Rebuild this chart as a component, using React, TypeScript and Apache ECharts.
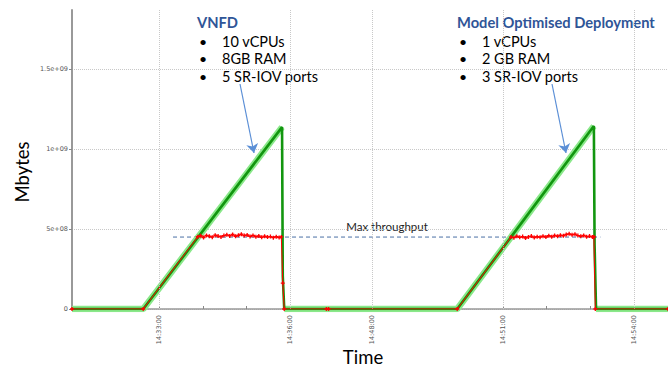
import React, { useEffect, useRef } from "react";
import * as echarts from "echarts";

// ---- time axis (two test runs shown side by side, the idle gap cut out) ----
const AXIS_START = "14:31:00";
const BREAK_AT = "14:40:00";
const GAP_SECONDS = 607;
const AXIS_END_SECONDS = 820;

const xTickLabels = ["14:33:00", "14:36:00", "14:48:00", "14:51:00", "14:54:00"];
const xMinorTicks = ["14:34:00", "14:35:00", "14:52:00", "14:53:00"];

const yTickValues = [0, 5e8, 1e9, 1.5e9];
const yTickLabels = ["0", "5e+08", "1e+09", "1.5e+09"];
const Y_MAX = 1.87e9;

// ---- green series (Mbytes sent) ----
const greenTimes = [
  "14:31:00", "14:32:38", "14:35:49", "14:35:50", "14:35:52", "14:36:50",
  "14:47:00", "14:49:57", "14:53:05", "14:53:06", "14:53:08", "14:54:47",
];
const greenValues = [
  0, 0, 1.1375e9, 2.06e8, 0, 0,
  0, 0, 1.144e9, 4.0e8, 0, 0,
];

// ---- red series (Mbytes received) ----
const redTimes = [
  "14:31:00", "14:32:38",
  "14:33:53", "14:33:57", "14:34:01", "14:34:05", "14:34:09", "14:34:13", "14:34:17", "14:34:21",
  "14:34:25", "14:34:29", "14:34:33", "14:34:37", "14:34:41", "14:34:45", "14:34:49", "14:34:53",
  "14:34:57", "14:35:01", "14:35:05", "14:35:09", "14:35:13", "14:35:17", "14:35:21", "14:35:25",
  "14:35:29", "14:35:33", "14:35:37", "14:35:41", "14:35:45", "14:35:48",
  "14:35:50", "14:35:52", "14:36:50",
  "14:47:00", "14:49:57",
  "14:51:11", "14:51:15", "14:51:19", "14:51:23", "14:51:27", "14:51:31", "14:51:35", "14:51:39",
  "14:51:43", "14:51:47", "14:51:51", "14:51:55", "14:51:59", "14:52:03", "14:52:07", "14:52:11",
  "14:52:15", "14:52:19", "14:52:23", "14:52:27", "14:52:31", "14:52:35", "14:52:39", "14:52:43",
  "14:52:47", "14:52:51", "14:52:55", "14:52:59", "14:53:03", "14:53:05",
  "14:53:07", "14:54:47",
];
const redValues = [
  0, 0,
  452e6, 458e6, 447e6, 460e6, 455e6, 449e6, 462e6, 456e6,
  451e6, 459e6, 464e6, 457e6, 466e6, 455e6, 461e6, 468e6,
  459e6, 463e6, 454e6, 460e6, 452e6, 457e6, 448e6, 455e6,
  450e6, 453e6, 446e6, 452e6, 447e6, 451e6,
  1.62e8, 0, 0,
  0, 0,
  450e6, 446e6, 455e6, 448e6, 453e6, 444e6, 451e6, 456e6,
  447e6, 452e6, 449e6, 455e6, 450e6, 458e6, 452e6, 460e6,
  455e6, 462e6, 458e6, 466e6, 470e6, 464e6, 468e6, 459e6,
  455e6, 460e6, 452e6, 456e6, 450e6, 452e6,
  0, 0,
];

const maxThroughputTimes = ["14:33:19", "14:53:14"];
const MAX_THROUGHPUT = 4.5e8;

// ---- annotations ----
const vnfdTitle = "VNFD";
const vnfdBullets = ["10 vCPUs", "8GB RAM", "5 SR-IOV ports"];
const modelTitle = "Model Optimised Deployment";
const modelBullets = ["1 vCPUs", "2 GB RAM", "3 SR-IOV ports"];
const maxLabel = "Max throughput";

function clockSec(t: string): number {
  const [h, m, s] = t.split(":").map(Number);
  return h * 3600 + m * 60 + s;
}
const START = clockSec(AXIS_START);
const BREAK = clockSec(BREAK_AT) - START;
function displaySec(t: string): number {
  const s = clockSec(t) - START;
  return s >= BREAK ? s - GAP_SECONDS : s;
}

const majorTickVals = xTickLabels.map(displaySec);
const minorTickVals = xMinorTicks.map(displaySec);

const greenData = greenTimes.map((t, i) => [displaySec(t), greenValues[i]]);
const redData = redTimes.map((t, i) => [displaySec(t), redValues[i]]);
// halo band is broken where the line falls vertically
const greenHalo: any[] = [];
greenData.forEach((p, i) => {
  greenHalo.push(p);
  const nx = greenData[i + 1];
  if (nx && nx[1] < p[1]) greenHalo.push([p[0], null]);
});
const maxData = maxThroughputTimes.map((t) => [displaySec(t), MAX_THROUGHPUT]);

const TEXT_FONT = "Lato, 'Open Sans', sans-serif";
const TITLE_COLOR = "#2f5597";
const PLUS = "path://M1,0H2V1H3V2H2V3H1V2H0V1H1Z";

function annotationBlock(x: number, title: string, bullets: string[]) {
  const els: any[] = [
    {
      type: "text",
      x,
      y: 22,
      style: { text: title, fontFamily: TEXT_FONT, fontWeight: "bold", fontSize: 14.7, fill: TITLE_COLOR, verticalAlign: "middle" },
    },
  ];
  bullets.forEach((b, i) => {
    const y = 41 + i * 17.5;
    els.push({
      type: "text",
      x: x + 2,
      y,
      style: { text: "•", fontFamily: TEXT_FONT, fontSize: 14, fill: "#000", verticalAlign: "middle" },
    });
    els.push({
      type: "text",
      x: x + 25,
      y,
      style: { text: b, fontFamily: TEXT_FONT, fontSize: 14.5, fill: "#000", verticalAlign: "middle" },
    });
  });
  return els;
}

export default function App() {
  const ref = useRef<HTMLDivElement>(null);
  useEffect(() => {
    if (!ref.current) return;
    const chart = echarts.init(ref.current, undefined, { renderer: "svg" });
    const fmtY = (v: number) => {
      const i = yTickValues.findIndex((t) => Math.abs(t - v) < 1);
      return i >= 0 ? yTickLabels[i] : "";
    };
    const fmtX = (v: number) => {
      const i = majorTickVals.findIndex((t) => Math.abs(t - v) < 0.5);
      return i >= 0 ? xTickLabels[i] : "";
    };
    chart.setOption({
      animation: false,
      grid: { left: 72, right: 0, top: 10, bottom: 62 },
      xAxis: {
        type: "value",
        min: 0,
        max: AXIS_END_SECONDS,
        axisLine: { lineStyle: { color: "#999", width: 1.5 } },
        axisTick: {
          inside: true,
          length: 3,
          customValues: [...majorTickVals, ...minorTickVals].sort((a, b) => a - b),
          lineStyle: { color: "#888" },
        },
        axisLabel: {
          customValues: majorTickVals,
          formatter: fmtX,
          rotate: 90,
          margin: 6,
          fontSize: 6.5,
          fontFamily: "DejaVu Sans",
          color: "#555",
        },
        splitLine: { show: false },
      },
      yAxis: {
        type: "value",
        min: 0,
        max: Y_MAX,
        axisLine: { show: true, lineStyle: { color: "#999", width: 2 } },
        axisTick: { show: true, length: 3, customValues: yTickValues, lineStyle: { color: "#888" } },
        axisLabel: {
          customValues: yTickValues,
          formatter: fmtY,
          margin: 4,
          fontSize: 6.5,
          fontFamily: "DejaVu Sans",
          color: "#555",
        },
        splitLine: { show: true, lineStyle: { type: "dotted", color: "#c8c8c8", width: 1 } },
      },
      series: [
        {
          name: "grid",
          type: "line",
          data: [],
          z: 1,
          silent: true,
          markLine: {
            silent: true,
            symbol: "none",
            label: { show: false },
            lineStyle: { type: "dotted", color: "#c8c8c8", width: 1 },
            data: majorTickVals.map((v) => ({ xAxis: v })),
          },
        },
        {
          name: "Max throughput",
          type: "line",
          data: maxData,
          z: 2,
          showSymbol: false,
          silent: true,
          lineStyle: { type: [4, 3], color: "#4a6fa5", width: 1 },
        },
        {
          name: "halo",
          type: "line",
          data: greenHalo,
          z: 3,
          showSymbol: false,
          connectNulls: false,
          silent: true,
          lineStyle: { color: "#8ae88a", width: 6.5 },
        },
        {
          name: "Sent",
          type: "line",
          data: greenData,
          z: 4,
          showSymbol: false,
          silent: true,
          lineStyle: { color: "#12960f", width: 2.6 },
        },
        {
          name: "Received",
          type: "line",
          data: redData,
          z: 5,
          symbol: PLUS,
          symbolSize: 4,
          showSymbol: true,
          showAllSymbol: true,
          silent: true,
          itemStyle: { color: "#ff0000" },
          lineStyle: { color: "#ff0000", width: 1 },
        },
        {
          name: "arrows",
          type: "line",
          data: [],
          z: 6,
          silent: true,
          markLine: {
            silent: true,
            symbol: ["none", "arrow"],
            symbolSize: 9,
            label: { show: false },
            lineStyle: { type: "solid", color: "#5b8fd6", width: 1.2 },
            data: [
              [{ x: 240, y: 84 }, { x: 254, y: 153 }],
              [{ x: 552, y: 84 }, { x: 566, y: 153 }],
            ],
          },
        },
      ],
      graphic: [
        ...annotationBlock(197, vnfdTitle, vnfdBullets),
        ...annotationBlock(457, modelTitle, modelBullets),
        {
          type: "text",
          x: 387,
          y: 226,
          style: { text: maxLabel, fontFamily: TEXT_FONT, fontSize: 11.5, fill: "#222", align: "center", verticalAlign: "middle" },
        },
        {
          type: "text",
          x: 22,
          y: 172,
          rotation: Math.PI / 2,
          style: { text: "Mbytes", fontFamily: TEXT_FONT, fontSize: 18.5, fill: "#000", align: "center", verticalAlign: "middle" },
        },
        {
          type: "text",
          x: 363,
          y: 357,
          style: { text: "Time", fontFamily: TEXT_FONT, fontSize: 18.5, fill: "#000", align: "center", verticalAlign: "middle" },
        },
      ],
    });
    return () => chart.dispose();
  }, []);
  return (
    <div
      ref={ref}
      style={{ position: "absolute", left: 0, top: 0, width: 668, height: 371, background: "#fff" }}
    />
  );
}
